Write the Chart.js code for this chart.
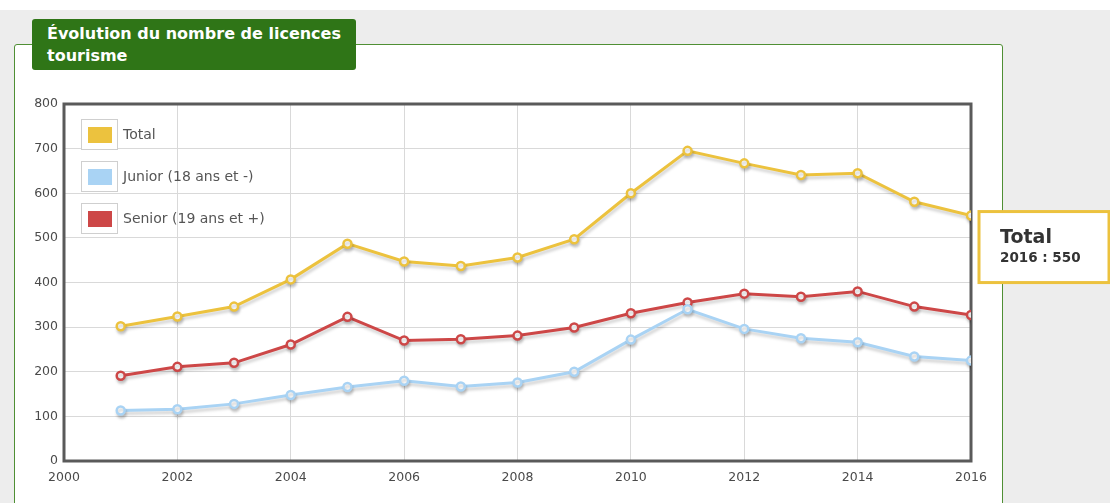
<!DOCTYPE html>
<html>
<head>
<meta charset="utf-8">
<script src="https://cdn.jsdelivr.net/npm/chart.js@4.4.1/dist/chart.umd.min.js"></script>
<style>
  html, body { margin: 0; padding: 0; }
  body { width: 1110px; height: 503px; background: #ededed; position: relative; overflow: hidden; font-family: "DejaVu Sans", sans-serif; }
  .topband { position: absolute; left: 0; top: 0; width: 1110px; height: 10px; background: #fff; }
  .panel { position: absolute; left: 14px; top: 44px; width: 987px; height: 480px; background: #fff; border: 1.5px solid #4f8f34; border-radius: 3px; }
  .titre { position: absolute; left: 32px; top: 19px; width: 324px; height: 51px; background: #2f7517; border-radius: 3px; color: #fff;
           font: bold 16px "DejaVu Sans", sans-serif; line-height: 22px; padding: 4px 0 0 15px; box-sizing: border-box; }
  canvas { position: absolute; left: 0; top: 0; }
</style>
</head>
<body>
<div class="topband"></div>
<div class="panel"></div>
<div class="titre">Évolution du nombre de licences<br>tourisme</div>
<canvas id="licences" width="1110" height="503"></canvas>
<script>
const annees = [2001, 2002, 2003, 2004, 2005, 2006, 2007, 2008, 2009, 2010, 2011, 2012, 2013, 2014, 2015, 2016];
const total  = [302, 324, 346, 407, 487, 447, 437, 456, 497, 600, 695, 667, 641, 645, 581, 550];
const junior = [113, 116, 128, 148, 166, 180, 167, 176, 200, 272, 340, 296, 275, 266, 234, 225];
const senior = [191, 211, 220, 261, 323, 270, 273, 281, 299, 331, 355, 375, 368, 380, 346, 327];
const series = [
    { label: 'Total', valeurs: total, couleur: '#ecc23e' },
    { label: 'Junior (18 ans et -)', valeurs: junior, couleur: '#a9d3f4' },
    { label: 'Senior (19 ans et +)', valeurs: senior, couleur: '#cd4747' }
];

// ombre sous les courbes
const ombre = {
    id: 'ombre',
    beforeDatasetDraw(chart) {
        const ctx = chart.ctx;
        ctx.save();
        ctx.shadowColor = 'rgba(0,0,0,0.18)';
        ctx.shadowOffsetX = 1;
        ctx.shadowOffsetY = 3;
        ctx.shadowBlur = 3;
    },
    afterDatasetDraw(chart) { chart.ctx.restore(); }
};

// cadre sombre autour de la zone de tracé
const cadre = {
    id: 'cadre',
    beforeDatasetsDraw(chart) {
        const { ctx, chartArea: a } = chart;
        ctx.save();
        ctx.strokeStyle = '#5a5a5a';
        ctx.lineWidth = 3;
        ctx.strokeRect(a.left, a.top, a.right - a.left, a.bottom - a.top);
        ctx.restore();
    }
};

// légende dans le coin haut gauche
const legende = {
    id: 'legende',
    afterDraw(chart) {
        const { ctx, chartArea: a } = chart;
        ctx.save();
        chart.data.datasets.forEach((ds, i) => {
            const x = a.left + 17, y = a.top + 15 + i * 42;
            ctx.fillStyle = '#fff';
            ctx.fillRect(x, y, 37, 31);
            ctx.strokeStyle = '#cfcfcf';
            ctx.lineWidth = 1;
            ctx.strokeRect(x + 0.5, y + 0.5, 36, 30);
            ctx.fillStyle = ds.borderColor;
            ctx.fillRect(x + 7, y + 8, 24, 16);
            ctx.fillStyle = '#555';
            ctx.font = '14px "DejaVu Sans"';
            ctx.textBaseline = 'middle';
            ctx.fillText(ds.label, x + 42, y + 16);
        });
        ctx.restore();
    }
};

// info-bulle sur le dernier point du total
const bulle = {
    id: 'bulle',
    afterDraw(chart) {
        const ctx = chart.ctx;
        const meta = chart.getDatasetMeta(0);
        const n = meta.data.length - 1;
        const pt = meta.data[n];
        const x = pt.x + 8, y = pt.y - 4;
        ctx.save();
        ctx.fillStyle = '#fff';
        ctx.strokeStyle = series[0].couleur;
        ctx.lineWidth = 3;
        ctx.fillRect(x, y, 130, 71);
        ctx.strokeRect(x, y, 130, 71);
        ctx.fillStyle = '#333';
        ctx.textBaseline = 'middle';
        ctx.font = 'bold 19px "DejaVu Sans"';
        ctx.fillText(series[0].label, x + 21, y + 26);
        ctx.font = 'bold 13.5px "DejaVu Sans"';
        ctx.fillText(annees[n] + ' : ' + total[n], x + 21, y + 47);
        ctx.restore();
    }
};

new Chart(document.getElementById('licences'), {
    type: 'line',
    data: {
        datasets: series.map(s => ({
            label: s.label,
            data: annees.map((a, i) => ({ x: a, y: s.valeurs[i] })),
            borderColor: s.couleur,
            backgroundColor: s.couleur,
            borderWidth: 3,
            pointRadius: 4,
            pointBorderWidth: 2.5,
            pointBackgroundColor: '#fff',
            pointBorderColor: s.couleur,
            tension: 0
        }))
    },
    options: {
        responsive: false,
        animation: false,
        layout: { padding: { top: 104, right: 139, left: 0, bottom: 0 } },
        plugins: { legend: { display: false }, tooltip: { enabled: false } },
        scales: {
            x: {
                type: 'linear', min: 2000, max: 2016,
                ticks: { stepSize: 2, color: '#4a4a4a', padding: 9, font: { family: 'DejaVu Sans', size: 12.5 }, callback: v => String(v) },
                grid: { color: '#d9d9d9', drawTicks: false },
                border: { display: false },
                afterFit(s) { s.height = 42; }
            },
            y: {
                min: 0, max: 800,
                ticks: { stepSize: 100, color: '#4a4a4a', padding: 6, font: { family: 'DejaVu Sans', size: 12.5 } },
                grid: { color: '#d9d9d9', drawTicks: false },
                border: { display: false },
                afterFit(s) { s.width = 64; }
            }
        }
    },
    plugins: [ombre, cadre, legende, bulle]
});
</script>
</body>
</html>
